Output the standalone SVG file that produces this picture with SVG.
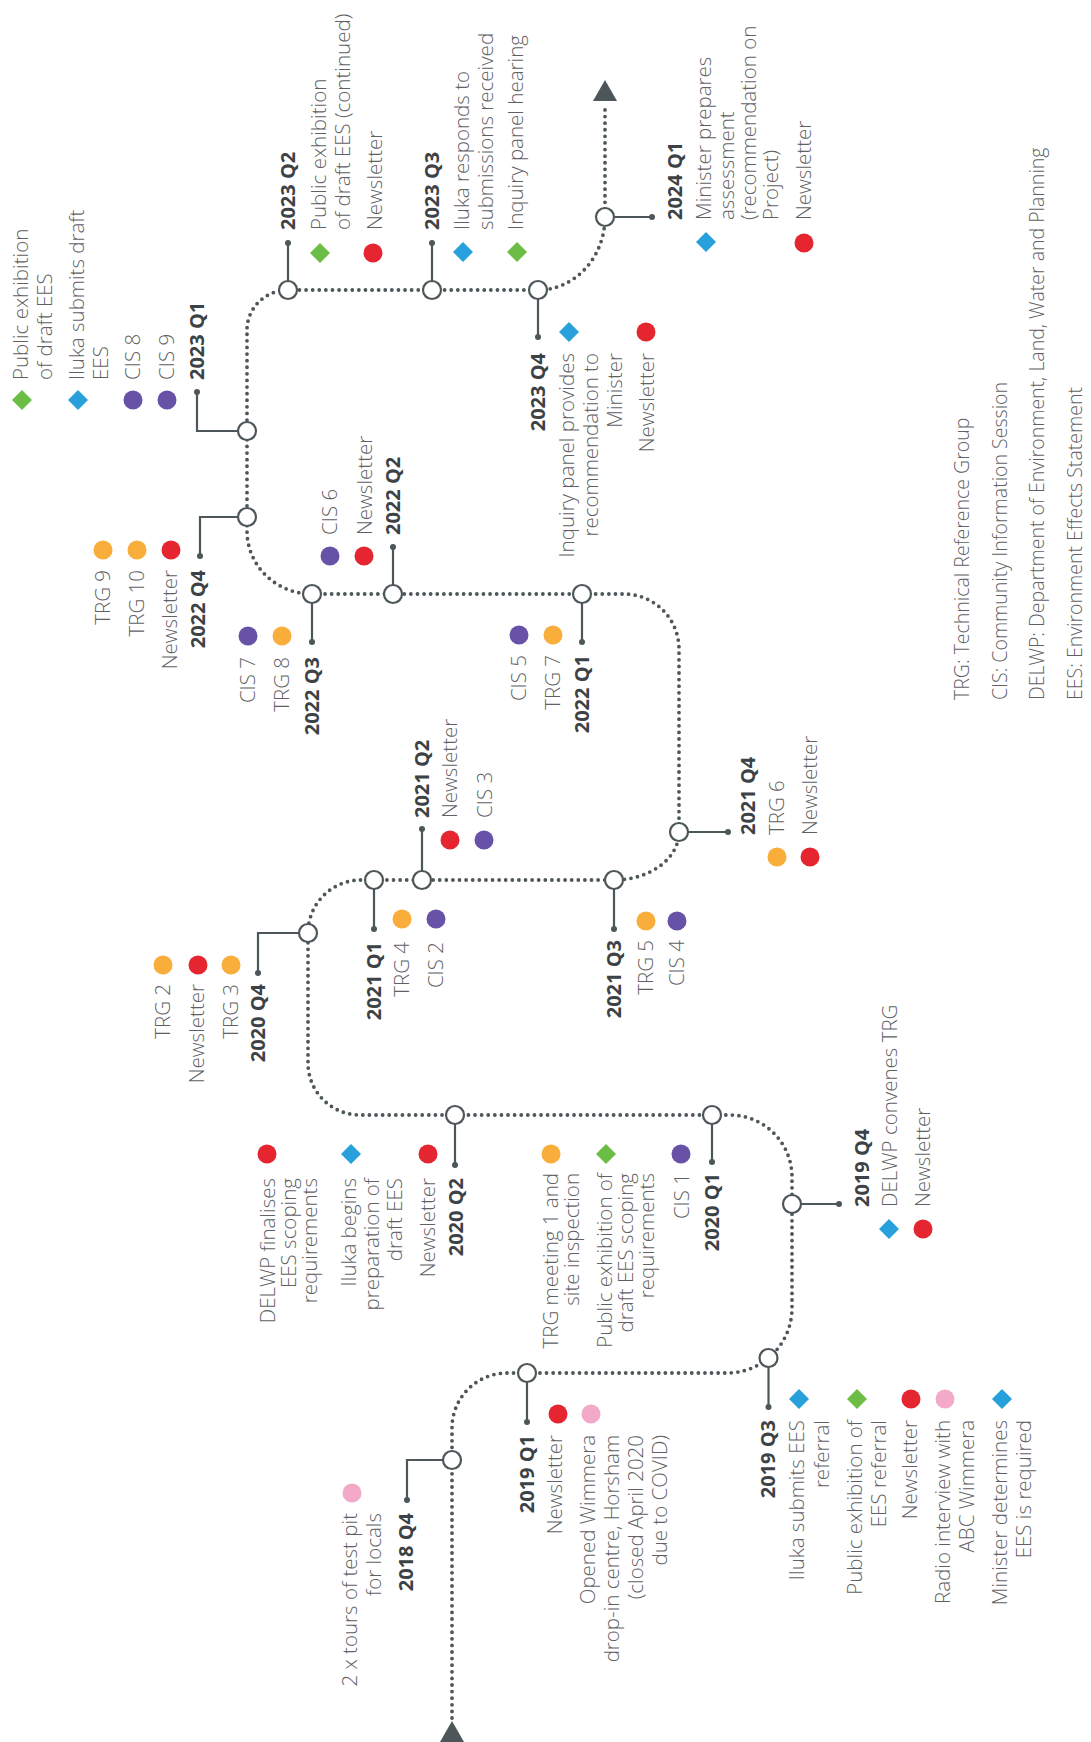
<svg xmlns="http://www.w3.org/2000/svg" xmlns:xlink="http://www.w3.org/1999/xlink" width="1091" height="1742" viewBox="0 0 1091 1742">
<style>
.t{font-family:"Open Sans","Liberation Sans",sans-serif;font-size:20.5px;font-weight:300;fill:#5f6164}
.b{font-family:"Open Sans","Liberation Sans",sans-serif;font-size:20px;font-weight:700;fill:#3c4245}
.lg{font-size:19.5px}
.tl{fill:none;stroke:#4d5659;stroke-width:3.8;stroke-linecap:round;stroke-dasharray:0 6.6}
.stub{fill:none;stroke:#4d5659;stroke-width:2.2}
.node{fill:#fff;stroke:#4d5659;stroke-width:2.2}
.end{fill:#4d5659}
.g{fill:#6cbd45}.bl{fill:#27a0dc}.r{fill:#e52530}.o{fill:#f9ad3a}.p{fill:#6752a7}.pk{fill:#f3a9c8}
</style>
<defs>
<circle id="c" r="9.5"/>
<path id="d" d="M0,-10 L10,0 L0,10 L-10,0Z"/>
</defs>
<rect width="1091" height="1742" fill="#fff"/>
<g id="connectors">
<path class="tl" d="M452,1718 V1428 A55,55 0 0 1 507,1373 H727 A65,65 0 0 0 792,1308 V1177 A62,62 0 0 0 730,1115 H360 A52,52 0 0 1 308,1063 V933 A53,53 0 0 1 361,880 H614 A65,48 0 0 0 679,832 V649 A55,55 0 0 0 624,594 H312 A65,63 0 0 1 247,531 V330 A41,40 0 0 1 288,290 H538 A67,73 0 0 0 605,217 V104"/>
<path class="end" d="M452,1721 L464,1742 L440,1742Z"/>
<path class="end" d="M605,80 L617,101 L593,101Z"/>
</g>

<g id="q2018-4">
<path class="stub" d="M452,1460 H407 V1500"/><circle class="end" cx="407" cy="1500" r="3"/><circle class="node" cx="452" cy="1460" r="9"/>
<text class="b" text-anchor="end" transform="translate(413 1513) rotate(-90)">2018 Q4</text>
<use href="#c" x="352" y="1493" class="pk"/>
<text class="t" text-anchor="end" transform="translate(357 1513) rotate(-90)"><tspan x="0" y="0">2 x tours of test pit</tspan><tspan x="0" y="24">for locals</tspan></text>
</g>

<g id="q2019-1">
<path class="stub" d="M527,1373 V1422"/><circle class="end" cx="527" cy="1422" r="3"/><circle class="node" cx="527" cy="1373" r="9"/>
<text class="b" text-anchor="end" transform="translate(534 1435) rotate(-90)">2019 Q1</text>
<use href="#c" x="558" y="1414" class="r"/>
<text class="t" text-anchor="end" transform="translate(562 1435) rotate(-90)">Newsletter</text>
<use href="#c" x="591" y="1414" class="pk"/>
<text class="t" text-anchor="end" transform="translate(595 1435) rotate(-90)"><tspan x="0" y="0">Opened Wimmera</tspan><tspan x="0" y="24">drop-in centre, Horsham</tspan><tspan x="0" y="48">(closed April 2020</tspan><tspan x="0" y="72">due to COVID)</tspan></text>
</g>

<g id="q2019-3">
<path class="stub" d="M768.5,1358 V1407"/><circle class="end" cx="768.5" cy="1407" r="3"/><circle class="node" cx="768.5" cy="1358" r="9"/>
<text class="b" text-anchor="end" transform="translate(775 1420) rotate(-90)">2019 Q3</text>
<use href="#d" x="799" y="1399" class="bl"/>
<text class="t" text-anchor="end" transform="translate(804 1420) rotate(-90)"><tspan x="0" y="0">Iluka submits EES</tspan><tspan x="0" y="25">referral</tspan></text>
<use href="#d" x="857" y="1399" class="g"/>
<text class="t" text-anchor="end" transform="translate(862 1420) rotate(-90)"><tspan x="0" y="0">Public exhibition of</tspan><tspan x="0" y="24">EES referral</tspan></text>
<use href="#c" x="911" y="1399" class="r"/>
<text class="t" text-anchor="end" transform="translate(917 1420) rotate(-90)">Newsletter</text>
<use href="#c" x="945" y="1399" class="pk"/>
<text class="t" text-anchor="end" transform="translate(950 1420) rotate(-90)"><tspan x="0" y="0">Radio interview with</tspan><tspan x="0" y="24">ABC Wimmera</tspan></text>
<use href="#d" x="1002" y="1399" class="bl"/>
<text class="t" text-anchor="end" transform="translate(1007 1420) rotate(-90)"><tspan x="0" y="0">Minister determines</tspan><tspan x="0" y="24">EES is required</tspan></text>
</g>

<g id="q2019-4">
<path class="stub" d="M792,1204 H839"/><circle class="end" cx="839" cy="1204" r="3"/><circle class="node" cx="792" cy="1204" r="9"/>
<text class="b" transform="translate(869 1207) rotate(-90)">2019 Q4</text>
<use href="#d" x="889" y="1229" class="bl"/>
<text class="t" transform="translate(897 1207) rotate(-90)">DELWP convenes TRG</text>
<use href="#c" x="923" y="1229" class="r"/>
<text class="t" transform="translate(930 1207) rotate(-90)">Newsletter</text>
</g>

<g id="q2020-1">
<path class="stub" d="M712,1115 V1162"/><circle class="end" cx="712" cy="1162" r="3"/><circle class="node" cx="712" cy="1115" r="9"/>
<text class="b" text-anchor="end" transform="translate(719 1173) rotate(-90)">2020 Q1</text>
<use href="#c" x="681" y="1154" class="p"/>
<text class="t" text-anchor="end" transform="translate(689 1173) rotate(-90)">CIS 1</text>
<use href="#d" x="606" y="1154" class="g"/>
<text class="t" text-anchor="end" transform="translate(612 1173) rotate(-90)"><tspan x="0" y="0">Public exhibition of</tspan><tspan x="0" y="21">draft EES scoping</tspan><tspan x="0" y="42">requirements</tspan></text>
<use href="#c" x="551" y="1154" class="o"/>
<text class="t" text-anchor="end" transform="translate(558 1173) rotate(-90)"><tspan x="0" y="0">TRG meeting 1 and</tspan><tspan x="0" y="21">site inspection</tspan></text>
</g>

<g id="q2020-2">
<path class="stub" d="M455,1115 V1165"/><circle class="end" cx="455" cy="1165" r="3"/><circle class="node" cx="455" cy="1115" r="9"/>
<text class="b" text-anchor="end" transform="translate(463 1178) rotate(-90)">2020 Q2</text>
<use href="#c" x="428" y="1154" class="r"/>
<text class="t" text-anchor="end" transform="translate(435 1178) rotate(-90)">Newsletter</text>
<use href="#d" x="351" y="1154" class="bl"/>
<text class="t" text-anchor="end" transform="translate(356 1178) rotate(-90)"><tspan x="0" y="0">Iluka begins</tspan><tspan x="0" y="23">preparation of</tspan><tspan x="0" y="46">draft EES</tspan></text>
<use href="#c" x="267" y="1154" class="r"/>
<text class="t" text-anchor="end" transform="translate(275 1178) rotate(-90)"><tspan x="0" y="0">DELWP finalises</tspan><tspan x="0" y="21">EES scoping</tspan><tspan x="0" y="42">requirements</tspan></text>
</g>

<g id="q2020-4">
<path class="stub" d="M308,933 H258 V973"/><circle class="end" cx="258" cy="973" r="3"/><circle class="node" cx="308" cy="933" r="9"/>
<text class="b" text-anchor="end" transform="translate(265 984) rotate(-90)">2020 Q4</text>
<use href="#c" x="163" y="965" class="o"/>
<text class="t" text-anchor="end" transform="translate(170 984) rotate(-90)">TRG 2</text>
<use href="#c" x="198" y="965" class="r"/>
<text class="t" text-anchor="end" transform="translate(204 984) rotate(-90)">Newsletter</text>
<use href="#c" x="231" y="965" class="o"/>
<text class="t" text-anchor="end" transform="translate(238 984) rotate(-90)">TRG 3</text>
</g>

<g id="q2021-1">
<path class="stub" d="M374,880 V929"/><circle class="end" cx="374" cy="929" r="3"/><circle class="node" cx="374" cy="880" r="9"/>
<text class="b" text-anchor="end" transform="translate(381 942) rotate(-90)">2021 Q1</text>
<use href="#c" x="402" y="919" class="o"/>
<text class="t" text-anchor="end" transform="translate(409 942) rotate(-90)">TRG 4</text>
<use href="#c" x="436" y="919" class="p"/>
<text class="t" text-anchor="end" transform="translate(443 942) rotate(-90)">CIS 2</text>
</g>

<g id="q2021-2">
<path class="stub" d="M422,880 V829"/><circle class="end" cx="422" cy="829" r="3"/><circle class="node" cx="422" cy="880" r="9"/>
<text class="b" transform="translate(429 818) rotate(-90)">2021 Q2</text>
<use href="#c" x="450" y="840" class="r"/>
<text class="t" transform="translate(457 818) rotate(-90)">Newsletter</text>
<use href="#c" x="484" y="840" class="p"/>
<text class="t" transform="translate(492 818) rotate(-90)">CIS 3</text>
</g>

<g id="q2021-3">
<path class="stub" d="M614,880 V929"/><circle class="end" cx="614" cy="929" r="3"/><circle class="node" cx="614" cy="880" r="9"/>
<text class="b" text-anchor="end" transform="translate(621 940) rotate(-90)">2021 Q3</text>
<use href="#c" x="646" y="921" class="o"/>
<text class="t" text-anchor="end" transform="translate(653 940) rotate(-90)">TRG 5</text>
<use href="#c" x="677" y="921" class="p"/>
<text class="t" text-anchor="end" transform="translate(684 940) rotate(-90)">CIS 4</text>
</g>

<g id="q2021-4">
<path class="stub" d="M679,832 H728"/><circle class="end" cx="728" cy="832" r="3"/><circle class="node" cx="679" cy="832" r="9"/>
<text class="b" transform="translate(755 835) rotate(-90)">2021 Q4</text>
<use href="#c" x="777" y="857" class="o"/>
<text class="t" transform="translate(784 835) rotate(-90)">TRG 6</text>
<use href="#c" x="810" y="857" class="r"/>
<text class="t" transform="translate(817 835) rotate(-90)">Newsletter</text>
</g>

<g id="q2022-1">
<path class="stub" d="M582,594 V642"/><circle class="end" cx="582" cy="642" r="3"/><circle class="node" cx="582" cy="594" r="9"/>
<text class="b" text-anchor="end" transform="translate(589 655) rotate(-90)">2022 Q1</text>
<use href="#c" x="553" y="635" class="o"/>
<text class="t" text-anchor="end" transform="translate(560 655) rotate(-90)">TRG 7</text>
<use href="#c" x="519" y="635" class="p"/>
<text class="t" text-anchor="end" transform="translate(526 655) rotate(-90)">CIS 5</text>
</g>

<g id="q2022-2">
<path class="stub" d="M393,594 V547"/><circle class="end" cx="393" cy="547" r="3"/><circle class="node" cx="393" cy="594" r="9"/>
<text class="b" transform="translate(400 535) rotate(-90)">2022 Q2</text>
<use href="#c" x="330" y="556" class="p"/>
<text class="t" transform="translate(337 535) rotate(-90)">CIS 6</text>
<use href="#c" x="364" y="556" class="r"/>
<text class="t" transform="translate(372 535) rotate(-90)">Newsletter</text>
</g>

<g id="q2022-3">
<path class="stub" d="M312,594 V642"/><circle class="end" cx="312" cy="642" r="3"/><circle class="node" cx="312" cy="594" r="9"/>
<text class="b" text-anchor="end" transform="translate(319 657) rotate(-90)">2022 Q3</text>
<use href="#c" x="248" y="636" class="p"/>
<text class="t" text-anchor="end" transform="translate(255 657) rotate(-90)">CIS 7</text>
<use href="#c" x="282" y="636" class="o"/>
<text class="t" text-anchor="end" transform="translate(289 657) rotate(-90)">TRG 8</text>
</g>

<g id="q2022-4">
<path class="stub" d="M247,517 H200 V556"/><circle class="end" cx="200" cy="556" r="3"/><circle class="node" cx="247" cy="517" r="9"/>
<text class="b" text-anchor="end" transform="translate(205 570) rotate(-90)">2022 Q4</text>
<use href="#c" x="103" y="550" class="o"/>
<text class="t" text-anchor="end" transform="translate(110 570) rotate(-90)">TRG 9</text>
<use href="#c" x="137" y="550" class="o"/>
<text class="t" text-anchor="end" transform="translate(144 570) rotate(-90)">TRG 10</text>
<use href="#c" x="171" y="550" class="r"/>
<text class="t" text-anchor="end" transform="translate(177 570) rotate(-90)">Newsletter</text>
</g>

<g id="q2023-1">
<path class="stub" d="M247,431 H197 V392"/><circle class="end" cx="197" cy="392" r="3"/><circle class="node" cx="247" cy="431" r="9"/>
<text class="b" transform="translate(204 380) rotate(-90)">2023 Q1</text>
<use href="#d" x="22" y="400" class="g"/>
<text class="t" transform="translate(28 380) rotate(-90)"><tspan x="0" y="0">Public exhibition</tspan><tspan x="0" y="24">of draft EES</tspan></text>
<use href="#d" x="78" y="400" class="bl"/>
<text class="t" transform="translate(84 380) rotate(-90)"><tspan x="0" y="0">Iluka submits draft</tspan><tspan x="0" y="24">EES</tspan></text>
<use href="#c" x="133" y="400" class="p"/>
<text class="t" transform="translate(140 380) rotate(-90)">CIS 8</text>
<use href="#c" x="167" y="400" class="p"/>
<text class="t" transform="translate(174 380) rotate(-90)">CIS 9</text>
</g>

<g id="q2023-2">
<path class="stub" d="M288,290 V243"/><circle class="end" cx="288" cy="243" r="3"/><circle class="node" cx="288" cy="290" r="9"/>
<text class="b" transform="translate(295 230) rotate(-90)">2023 Q2</text>
<use href="#d" x="320" y="253" class="g"/>
<text class="t" transform="translate(326 230) rotate(-90)"><tspan x="0" y="0">Public exhibition</tspan><tspan x="0" y="24">of draft EES (continued)</tspan></text>
<use href="#c" x="373" y="253" class="r"/>
<text class="t" transform="translate(382 230) rotate(-90)">Newsletter</text>
</g>

<g id="q2023-3">
<path class="stub" d="M432,290 V243"/><circle class="end" cx="432" cy="243" r="3"/><circle class="node" cx="432" cy="290" r="9"/>
<text class="b" transform="translate(439 230) rotate(-90)">2023 Q3</text>
<use href="#d" x="463" y="252" class="bl"/>
<text class="t" transform="translate(469 230) rotate(-90)"><tspan x="0" y="0">Iluka responds to</tspan><tspan x="0" y="24">submissions received</tspan></text>
<use href="#d" x="517" y="252" class="g"/>
<text class="t" transform="translate(523 230) rotate(-90)">Inquiry panel hearing</text>
</g>

<g id="q2023-4">
<path class="stub" d="M538,290 V337"/><circle class="end" cx="538" cy="337" r="3"/><circle class="node" cx="538" cy="290" r="9"/>
<text class="b" text-anchor="end" transform="translate(545 353) rotate(-90)">2023 Q4</text>
<use href="#d" x="569" y="332" class="bl"/>
<text class="t" text-anchor="end" transform="translate(574 353) rotate(-90)"><tspan x="0" y="0">Inquiry panel provides</tspan><tspan x="0" y="24">recommendation to</tspan><tspan x="0" y="48">Minister</tspan></text>
<use href="#c" x="646" y="332" class="r"/>
<text class="t" text-anchor="end" transform="translate(654 353) rotate(-90)">Newsletter</text>
</g>

<g id="q2024-1">
<path class="stub" d="M605,217 H652"/><circle class="end" cx="652" cy="217" r="3"/><circle class="node" cx="605" cy="217" r="9"/>
<text class="b" transform="translate(682 220) rotate(-90)">2024 Q1</text>
<use href="#d" x="706" y="242" class="bl"/>
<text class="t" transform="translate(711 220) rotate(-90)"><tspan x="0" y="0">Minister prepares</tspan><tspan x="0" y="23">assessment</tspan><tspan x="0" y="45">(recommendation on</tspan><tspan x="0" y="67">Project)</tspan></text>
<use href="#c" x="804" y="243" class="r"/>
<text class="t" transform="translate(811 220) rotate(-90)">Newsletter</text>
</g>

<g id="legend">
<text class="t lg" transform="translate(969 700) rotate(-90)">TRG: Technical Reference Group</text>
<text class="t lg" transform="translate(1007 700) rotate(-90)">CIS: Community Information Session</text>
<text class="t lg" transform="translate(1044 700) rotate(-90)">DELWP: Department of Environment, Land, Water and Planning</text>
<text class="t lg" transform="translate(1082 700) rotate(-90)">EES: Environment Effects Statement</text>
</g>
</svg>
